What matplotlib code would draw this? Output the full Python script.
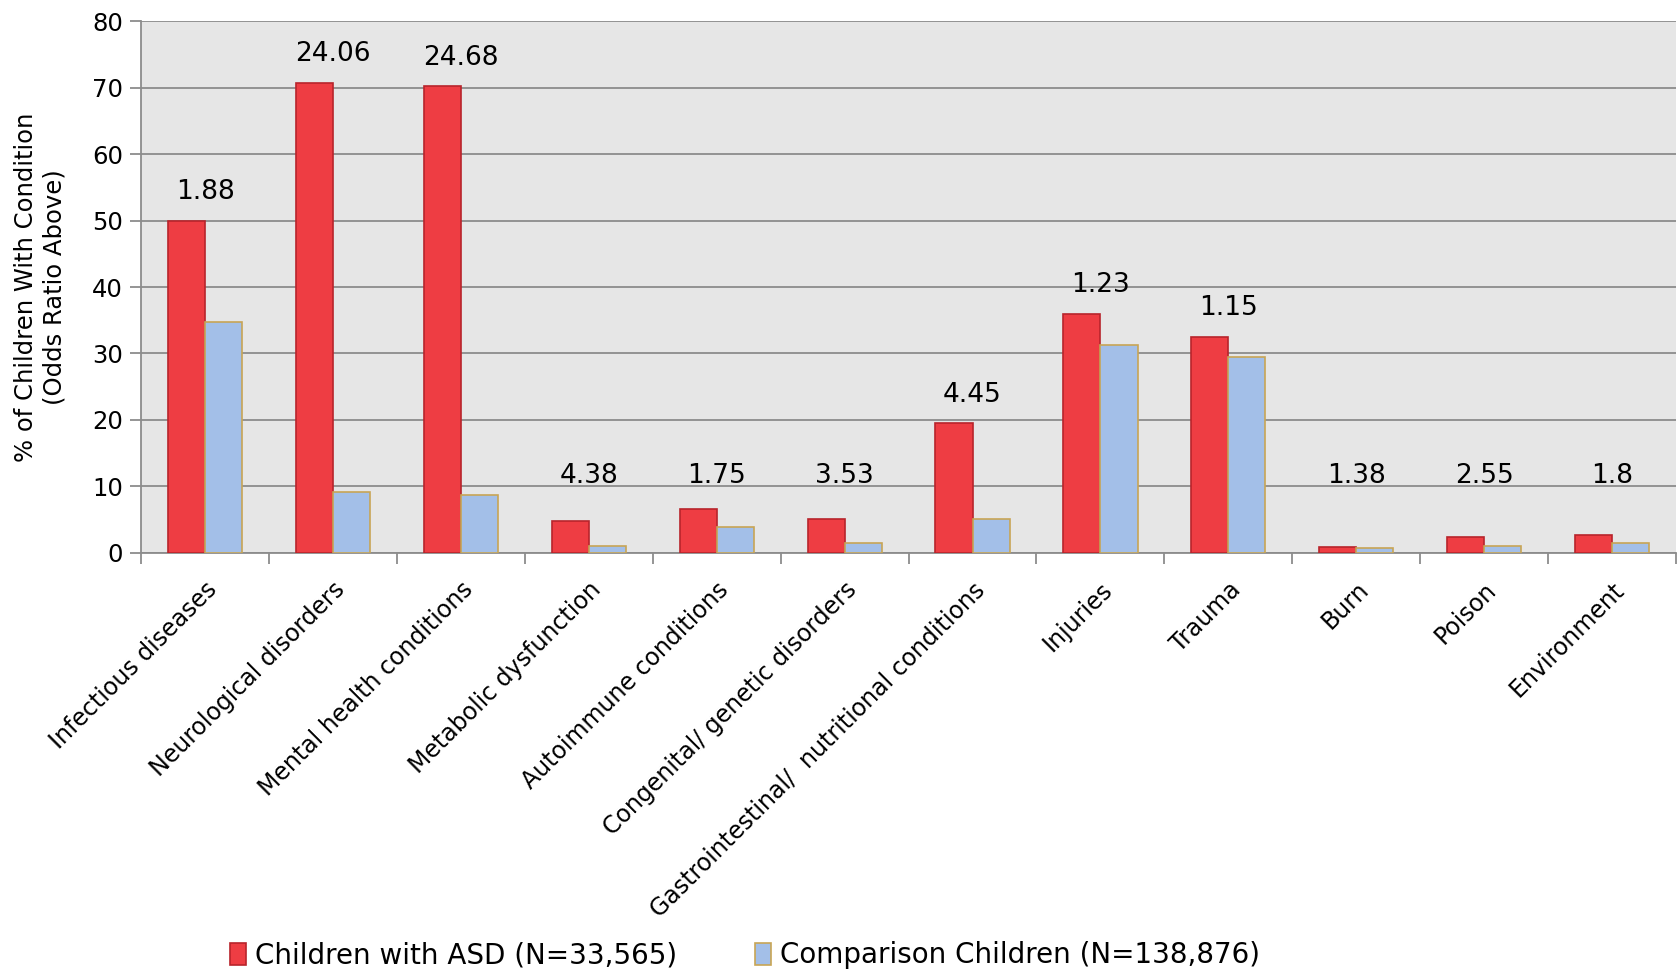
import numpy as np
import matplotlib
matplotlib.use("Agg")
import matplotlib.pyplot as plt
from matplotlib.patches import Patch

# --- data ---
categories = [
    "Infectious diseases", "Neurological disorders", "Mental health conditions",
    "Metabolic dysfunction", "Autoimmune conditions", "Congenital/ genetic disorders",
    "Gastrointestinal/  nutritional conditions", "Injuries", "Trauma", "Burn",
    "Poison", "Environment",
]
asd_pct = [50.0, 70.8, 70.2, 4.7, 6.6, 5.1, 19.5, 36.0, 32.5, 0.9, 2.4, 2.7]
comparison_pct = [34.8, 9.1, 8.7, 1.0, 3.8, 1.4, 5.0, 31.3, 29.5, 0.7, 1.0, 1.4]
odds_ratios = ["1.88", "24.06", "24.68", "4.38", "1.75", "3.53",
               "4.45", "1.23", "1.15", "1.38", "2.55", "1.8"]

asd_label = "Children with ASD (N=33,565)"
comp_label = "Comparison Children (N=138,876)"

RED, RED_EDGE = "#EE3D43", "#B8242B"
BLUE, BLUE_EDGE = "#A3BFE8", "#C8A555"
GRID = "#8C8C8C"

plt.rcParams["font.family"] = ["DejaVu Sans"]

fig = plt.figure(figsize=(16.81, 9.73), dpi=100)
ax = fig.add_axes([0.084, 0.432, 0.913, 0.546])

x = np.arange(len(categories))
width = 0.29
ax.bar(x - width / 2, asd_pct, width, color=RED, edgecolor=RED_EDGE,
       linewidth=1.2, zorder=3)
ax.bar(x + width / 2, comparison_pct, width, color=BLUE, edgecolor=BLUE_EDGE,
       linewidth=1.2, zorder=3)

# odds ratio labels above each group
for i, lab in enumerate(odds_ratios):
    y = max(asd_pct[i] + 4.3, 11.6)
    ax.text(x[i], y, lab, ha="center", va="center", fontsize=19, color="black")

ax.set_facecolor("#E6E6E6")
ax.set_xlim(-0.5, len(categories) - 0.5)
ax.set_ylim(0, 80)
ax.set_yticks(np.arange(0, 81, 10))
ax.yaxis.grid(True, color=GRID, linewidth=1.3, zorder=0)
ax.set_axisbelow(True)

for side in ["top", "right"]:
    ax.spines[side].set_visible(False)
for side in ["left", "bottom"]:
    ax.spines[side].set_color(GRID)
    ax.spines[side].set_linewidth(1.3)

ax.tick_params(axis="y", colors=GRID, labelcolor="black", labelsize=17.5,
               length=8, width=1.3, pad=5)
ax.set_xticks(x)
ax.set_xticklabels(categories, rotation=45, ha="right", va="top",
                   rotation_mode="anchor", fontsize=17)
ax.tick_params(axis="x", length=0, pad=18)
ax.set_xticks(np.arange(-0.5, len(categories), 1.0), minor=True)
ax.tick_params(axis="x", which="minor", length=8, width=1.3, colors=GRID)

ax.set_ylabel("% of Children With Condition\n(Odds Ratio Above)", fontsize=17.5)
ax.yaxis.set_label_coords(-0.049, 0.5)

handles = [Patch(facecolor=RED, edgecolor=RED_EDGE, linewidth=1.2),
           Patch(facecolor=BLUE, edgecolor=BLUE_EDGE, linewidth=1.2)]
fig.legend(handles, [asd_label, comp_label], loc="lower center",
           bbox_to_anchor=(0.443, -0.022), ncol=2, frameon=False, fontsize=20,
           handlelength=0.6, handleheight=0.85, handletextpad=0.3,
           columnspacing=2.8)

fig.savefig("out.png", dpi=100)
